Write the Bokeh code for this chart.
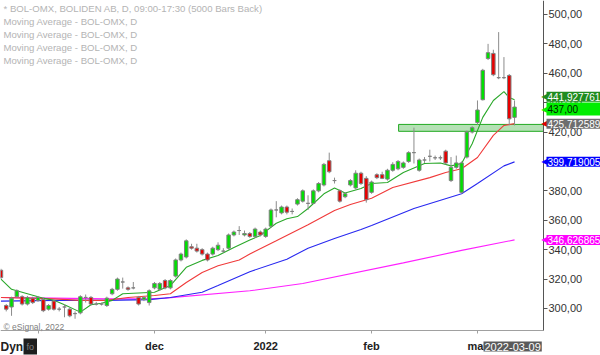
from bokeh.plotting import figure
from bokeh.models import FixedTicker, Label, Range1d, ColumnDataSource
from bokeh.embed import file_html
from bokeh.resources import INLINE

# ---------------- data ----------------
opens = [326, 302, 301, 308, 308, 303, 307, 305.4, 306, 299.5,
         305, 299.5, 301, 299.5, 296.5, 297, 307.5, 307.5, 303, 303,
         302, 310, 313, 318, 314, 314, 307.5, 306, 304, 314,
         313, 319, 314, 322, 333, 335, 342, 341, 340, 337,
         337, 340, 339, 341, 350, 353, 350, 351, 349, 352,
         349, 356, 367, 365, 369, 366, 371, 373, 371.5, 371.5,
         380, 384, 400.5, 387, 380, 376, 384, 382, 392, 388.5,
         379, 391, 391, 388, 394, 395, 396, 400, 406, 394,
         401, 403.5, 402.5, 402.5, 407, 387, 396, 379, 403, 420,
         426.5, 442, 470, 473.5, 457, 457, 458.5, 430]
closes = [321, 299.5, 307, 312, 303, 307.5, 304, 307.5, 298.5, 302,
          299.5, 299.5, 301, 295, 296.5, 308, 307.5, 303, 303, 303,
          307, 313, 320, 318, 313, 314, 303, 307.5, 312, 317,
          317, 314, 319, 333, 337, 346, 341, 339, 337, 333,
          341, 343, 339, 350, 352, 353, 351, 349, 354, 350,
          354, 367, 367, 369, 365.5, 366, 374, 380, 371.5, 380,
          385, 398, 393, 387, 373, 378, 387, 392, 385, 374,
          386, 389, 388.5, 394, 398, 400, 399, 406, 406, 401,
          401, 403.5, 402.5, 402.5, 399, 396, 399, 399, 420, 423,
          435, 462, 474, 459, 457, 457, 429, 437]
highs = [327, 303, 308, 313, 309, 308.5, 308, 308.5, 307, 303,
         306, 301, 303, 300.5, 298, 309, 309.5, 308.5, 304.5, 304,
         308, 314, 321, 321, 315, 318, 308.5, 308.5, 313, 318,
         318, 320, 320, 334, 338, 347, 344, 344, 341, 338,
         342, 345, 341, 351, 353, 356, 353, 352, 355, 353,
         355, 368, 373, 370, 370, 368, 375, 381, 377, 381,
         386, 399, 406, 389, 381, 379, 388, 394, 393, 390,
         387, 392, 393, 395, 399.5, 401, 400, 407, 423, 402,
         403, 408, 404, 404, 408, 403, 404, 400, 421, 424,
         441.5, 463, 480, 476, 488, 471, 459.5, 441.5]
lows = [320, 298, 295, 307, 302, 302, 303, 304.5, 297.5, 298.5,
        298.5, 298, 294, 294, 293, 296, 304, 302, 302, 302,
        301, 309, 312, 313.5, 312, 313, 302, 305, 302, 313,
        312, 313, 313, 321, 332, 334, 340, 338, 336, 332,
        336, 339, 338, 340, 349, 350, 349, 348, 348, 349,
        348, 355, 362, 364, 364, 364, 370, 372, 367, 371,
        379, 383, 392, 385, 372, 375, 383, 381, 384, 372,
        378, 388, 388, 387, 393, 394, 395, 399, 398.6, 393,
        399, 400, 401, 401, 398, 386, 395, 378, 402, 419,
        425, 441.5, 469, 458, 456, 456, 424.5, 424.5]
bars = list(range(len(opens)))

# moving averages (bar index, value)
ma_green_bar = [0, 2, 4, 6, 8, 10, 12, 15, 17, 19, 21, 23, 26, 29, 32, 35, 38, 41,
                44, 47, 49, 52, 54, 56, 58, 61, 63, 65, 68, 70, 73, 76, 80, 83, 85,
                87, 89, 91, 93, 95, 96, 97]
ma_green_val = [320, 313, 311, 309, 307, 305.5, 302.5, 297.5, 302.5, 303.5, 305.5, 310,
                310.5, 311, 315.6, 328, 332.7, 336, 341.5, 346.5, 349.7, 358, 361,
                362.5, 368, 378, 382, 378.5, 381.6, 385, 385.7, 392.5, 398.6, 399,
                397, 398.6, 412, 430, 441.5, 447.5, 443.5, 441.93]
ma_red_bar = [0, 5, 10, 15, 20, 24, 29, 32, 35, 38, 41, 45, 47, 52, 58, 63, 66, 70,
              74, 81, 84, 87, 90, 93, 95, 97]
ma_red_val = [307.5, 307, 306.5, 305.5, 305.5, 307.5, 308.8, 310, 317.7, 324.5, 329,
              333, 337, 346, 357, 366.7, 370.7, 375, 382.3, 389, 392.5, 395, 402.7,
              417.7, 424.5, 425.71]
ma_blue_bar = [0, 10, 20, 28, 32, 38, 41, 47, 54, 58, 63, 68, 70, 78, 87, 90, 95, 97]
ma_blue_val = [305, 305.5, 305.5, 306, 307.5, 311, 315.6, 325, 333.5, 341, 347.6,
               353.7, 356.5, 368, 378, 385, 397, 399.72]
ma_pink_bar = [0, 10, 20, 28, 31, 47, 57, 76, 87, 97]
ma_pink_val = [307.5, 307, 306.5, 306.5, 307, 312, 317, 331, 339.5, 346.63]

zone_start_bar = 75.1
zone_low = 420.5
zone_high = 425.2

y_ticks = [300, 320, 340, 360, 380, 400, 420, 440, 460, 480, 500]
x_tick_bars = [7, 29, 50, 70, 90]
x_tick_labels = ["", "dec", "2022", "feb", "mar"]

last_vals = [441.927761, 437.00, 425.712589, 399.719005, 346.626865]
last_texts = ["441,927761", "437,00", "425,712589", "399,719005", "346,626865"]
last_bg = ["#1e8c1e", "#00ee00", "#6e6e6e", "#0000ff", "#ff00ff"]
last_fg = ["white", "#002200", "white", "white", "white"]
last_arrow = ["#1e8c1e", "#00ee00", "#e00000", "#0000ff", "#ff00ff"]
last_shift = [3, -2, 0, 0, 0]

header_lines = ["* BOL-OMX, BOLIDEN AB, D, 09:00-17:30 (5000 Bars Back)",
                "Moving Average - BOL-OMX, D",
                "Moving Average - BOL-OMX, D",
                "Moving Average - BOL-OMX, D",
                "Moving Average - BOL-OMX, D"]
last_date = "2022-03-09"

# ---------------- layout ----------------
FONT = "Liberation Sans"
W, H = 600, 355          # whole figure (= frame)
PW, PH = 543, 330        # chart area inside it (axes drawn at its right / bottom edge)
x_start, x_plot_end = -0.085, 102.47
y_plot_start, y_end = 285.0, 509.5
x_end = x_start + (x_plot_end - x_start) * W / PW
y_start = y_end - (y_end - y_plot_start) * H / PH

p = figure(width=W, height=H, x_range=Range1d(x_start, x_end), y_range=Range1d(y_start, y_end),
           y_axis_location="right", output_backend="svg", toolbar_location=None,
           min_border=0, min_border_left=0, min_border_right=0, min_border_top=0,
           min_border_bottom=0)
p.grid.visible = False
p.outline_line_color = None

# support zone
p.quad(left=[zone_start_bar], right=[x_plot_end], bottom=[zone_low], top=[zone_high],
       fill_color="#a8dca8", fill_alpha=0.85, line_color="#22aa22", line_width=1)

# moving averages
p.line(ma_pink_bar, ma_pink_val, line_color="#ff20ff", line_width=1.1)
p.line(ma_blue_bar, ma_blue_val, line_color="#2828f0", line_width=1.1)
p.line(ma_red_bar, ma_red_val, line_color="#f03a3a", line_width=1.1)
p.line(ma_green_bar, ma_green_val, line_color="#2aa82a", line_width=1.1)

# candles
src = ColumnDataSource(dict(
    x=bars, o=opens, c=closes, h=highs, l=lows,
    top=[max(a, b) for a, b in zip(opens, closes)],
    bot=[min(a, b) for a, b in zip(opens, closes)],
    col=["#00e000" if c > o else ("#e80000" if c < o else "#808080") for o, c in zip(opens, closes)],
))
p.segment(x0="x", y0="h", x1="x", y1="l", source=src, line_color="#8c8c8c", line_width=1)
p.vbar(x="x", top="top", bottom="bot", width=0.66, source=src,
       fill_color="col", line_color="#808080", line_width=1)

# axes, pinned at the chart-area edges
ya = p.yaxis[0]
ya.fixed_location = x_plot_end
ya.bounds = (y_plot_start, y_end)
ya.ticker = FixedTicker(ticks=y_ticks)
ya.major_label_overrides = {t: f"{t},00" for t in y_ticks}
ya.major_tick_out = 4
ya.major_tick_in = 0
ya.minor_tick_out = 0
ya.minor_tick_in = 0
ya.axis_line_color = "#555555"
ya.major_tick_line_color = "#555555"
ya.major_label_text_font = FONT
ya.major_label_text_font_size = "11px"
ya.major_label_text_color = "#333333"
ya.major_label_standoff = 1

xa = p.xaxis[0]
xa.fixed_location = y_plot_start
xa.bounds = (x_start, x_plot_end)
xa.ticker = FixedTicker(ticks=x_tick_bars)
xa.major_label_overrides = {b: t for b, t in zip(x_tick_bars, x_tick_labels)}
xa.axis_line_color = "#a0a0a0"
xa.major_tick_line_color = "#a0a0a0"
xa.major_tick_out = 3
xa.major_tick_in = 0
xa.minor_tick_out = 0
xa.minor_tick_in = 0
xa.major_label_text_font = FONT
xa.major_label_text_font_size = "11px"
xa.major_label_text_font_style = "bold"
xa.major_label_text_color = "#222222"
xa.major_label_standoff = 6

# header texts
for k, t in enumerate(header_lines):
    p.add_layout(Label(x=3, y=H - 8 - 13 * k, x_units="screen", y_units="screen", text=t,
                       text_font=FONT, text_font_size="9.6px", text_color="#b4b4b4",
                       text_baseline="middle"))

p.add_layout(Label(x=x_start, y=y_plot_start, x_offset=3, y_offset=-1, text="\u00a9 eSignal, 2022",
                   text_font=FONT, text_font_size="8.5px", text_color="#808080",
                   text_baseline="bottom"))

# last-value boxes on the right axis (all boxes the same width)
box_chars = max(len(t) for t in last_texts)
for v, t, bg, fg, ac, sh in zip(last_vals, last_texts, last_bg, last_fg, last_arrow, last_shift):
    padded = t + "\u00a0" * (2 * (box_chars - len(t)))
    p.add_layout(Label(x=x_plot_end, y=v, x_offset=4, y_offset=sh, text="\u25c0",
                       text_font="DejaVu Sans", text_font_size="8px", text_color=ac,
                       text_baseline="middle", text_align="right"))
    p.add_layout(Label(x=x_plot_end, y=v, x_offset=3, y_offset=sh, text=padded,
                       text_font=FONT, text_font_size="10px", text_color=fg,
                       text_baseline="middle", background_fill_color=bg, padding=1))

# bottom decorations
p.add_layout(Label(x=x_start, y=y_plot_start, x_offset=0, y_offset=-16, text="Dyn",
                   text_font=FONT, text_font_size="12px", text_font_style="bold",
                   text_color="#222222", text_baseline="middle"))
p.add_layout(Label(x=x_start, y=y_plot_start, x_offset=23, y_offset=-16, text="fo",
                   text_font=FONT, text_font_size="9px", text_color="#808080",
                   text_baseline="middle", background_fill_color="#1e1e1e", padding=3))
p.add_layout(Label(x=x_plot_end, y=y_plot_start, x_offset=-60, y_offset=-16, text=last_date,
                   text_font=FONT, text_font_size="11px", text_color="white",
                   text_baseline="middle", background_fill_color="#5a5a5a", padding=1))

open("out.html", "w").write(file_html(p, INLINE))
